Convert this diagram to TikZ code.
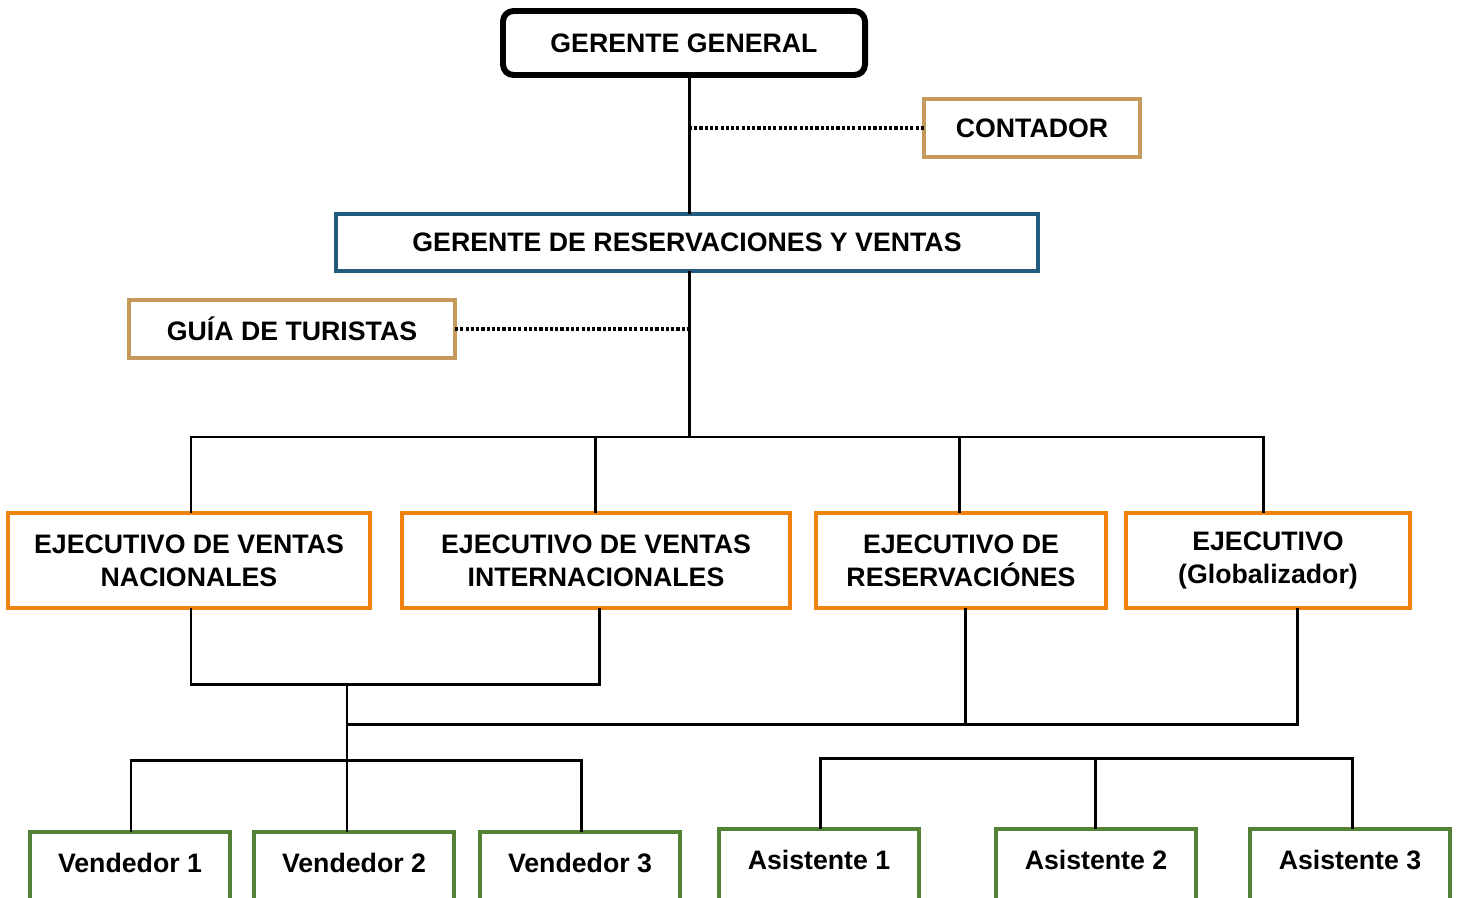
\documentclass[tikz,border=0pt]{standalone}
\usepackage{fontspec}
\setmainfont{Liberation Sans}
\usepackage{tikz}
\usetikzlibrary{arrows, positioning}
\usepackage{xcolor}
\definecolor{cafe}{HTML}{C59A5B}
\definecolor{azul}{HTML}{225B7E}
\definecolor{naranja}{HTML}{F0820F}
\definecolor{verde}{HTML}{538135}

\begin{document}
\begin{tikzpicture}[line width=1.7pt,font=\fontsize{15.2}{18.7}\selectfont\bfseries]
    \tikzstyle{puesto}=[shape=rectangle,draw,fill=white,line width=2.8pt,inner sep=0pt,outer sep=0pt,align=center]
    \tikzstyle{apoyo}=[puesto,draw=cafe]
    \tikzstyle{ejecutivo}=[puesto,draw=naranja,minimum height=1.9cm]
    \tikzstyle{base}=[shape=rectangle,draw=verde,fill=white,line width=2.8pt,inner sep=0pt,outer sep=0pt,minimum width=4cm,text height=0.8cm,text depth=0.7cm]
    \tikzstyle{punteado}=[line width=2.2pt,dash pattern=on 1.8pt off 1.2pt]

    \useasboundingbox (0,0) rectangle (29.16,-17.96);
    \clip (0,0) rectangle (29.16,-17.96);

    \node[puesto, line width=3.4pt, rounded corners=6pt, minimum width=7.24cm, minimum height=1.28cm] (GG) at (13.68,-0.86) {GERENTE GENERAL};
    \node[apoyo, minimum width=4.32cm, minimum height=1.16cm] (CONT) at (20.64,-2.56) {CONTADOR};
    \node[puesto, draw=azul, minimum width=14.04cm, minimum height=1.14cm] (GRV) at (13.74,-4.85) {GERENTE DE RESERVACIONES Y VENTAS};
    \node[apoyo, minimum width=6.52cm, minimum height=1.16cm] (GUIA) at (5.84,-6.58) {GUÍA DE TURISTAS};

    \node[ejecutivo, minimum width=7.24cm] (E1) at (3.78,-11.21) {EJECUTIVO DE VENTAS\\NACIONALES};
    \node[ejecutivo, minimum width=7.76cm] (E2) at (11.92,-11.21) {EJECUTIVO DE VENTAS\\INTERNACIONALES};
    \node[ejecutivo, minimum width=5.8cm] (E3) at (19.22,-11.21) {EJECUTIVO DE\\RESERVACIÓNES};
    \node[ejecutivo, minimum width=5.68cm] (E4) at (25.36,-11.21) {EJECUTIVO\\(Globalizador)};

    \node[base] (V1) at (2.6,-17.39) {Vendedor 1};
    \node[base] (V2) at (7.08,-17.39) {Vendedor 2};
    \node[base] (V3) at (11.6,-17.39) {Vendedor 3};
    \node[base] (A1) at (16.38,-17.33) {Asistente 1};
    \node[base] (A2) at (21.92,-17.33) {Asistente 2};
    \node[base] (A3) at (27.0,-17.33) {Asistente 3};

    % puntos de las lineas
    \coordinate (b0) at (13.78,-8.74);
    \coordinate (b1) at (3.82,-8.74);
    \coordinate (b2) at (11.9,-8.74);
    \coordinate (b3) at (19.18,-8.74);
    \coordinate (b4) at (25.26,-8.74);
    \coordinate (c0) at (6.94,-13.68);
    \coordinate (c1) at (3.82,-13.68);
    \coordinate (c2) at (11.98,-13.68);
    \coordinate (d0) at (6.94,-14.48);
    \coordinate (d1) at (19.3,-14.48);
    \coordinate (d2) at (25.94,-14.48);
    \coordinate (e1) at (2.62,-15.2);
    \coordinate (e2) at (11.62,-15.2);
    \coordinate (f1) at (16.4,-15.16);
    \coordinate (f2) at (21.9,-15.16);
    \coordinate (f3) at (27.04,-15.16);

    \path[draw]
    (GG.south -| b0) -- (GRV.north -| b0)
    (GRV.south -| b0) -- (b0)
    (E1.north -| b1) -- (b1) -- (b4) -- (E4.north -| b4)
    (E2.north -| b2) -- (b2)
    (E3.north -| b3) -- (b3)
    (E1.south -| c1) -- (c1) -- (c2) -- (E2.south -| c2)
    (c0) -- (V2.north -| c0)
    (d0) -- (d2) -- (E4.south -| d2)
    (d1) -- (E3.south -| d1)
    (V1.north -| e1) -- (e1) -- (e2) -- (V3.north -| e2)
    (A1.north -| f1) -- (f1) -- (f3) -- (A3.north -| f3)
    (f2) -- (A2.north -| f2)
    ;
    \path[draw,punteado]
    (CONT.west) -- (CONT.west -| b0)
    (GUIA.east) -- (GUIA.east -| b0)
    ;
\end{tikzpicture}
\end{document}
